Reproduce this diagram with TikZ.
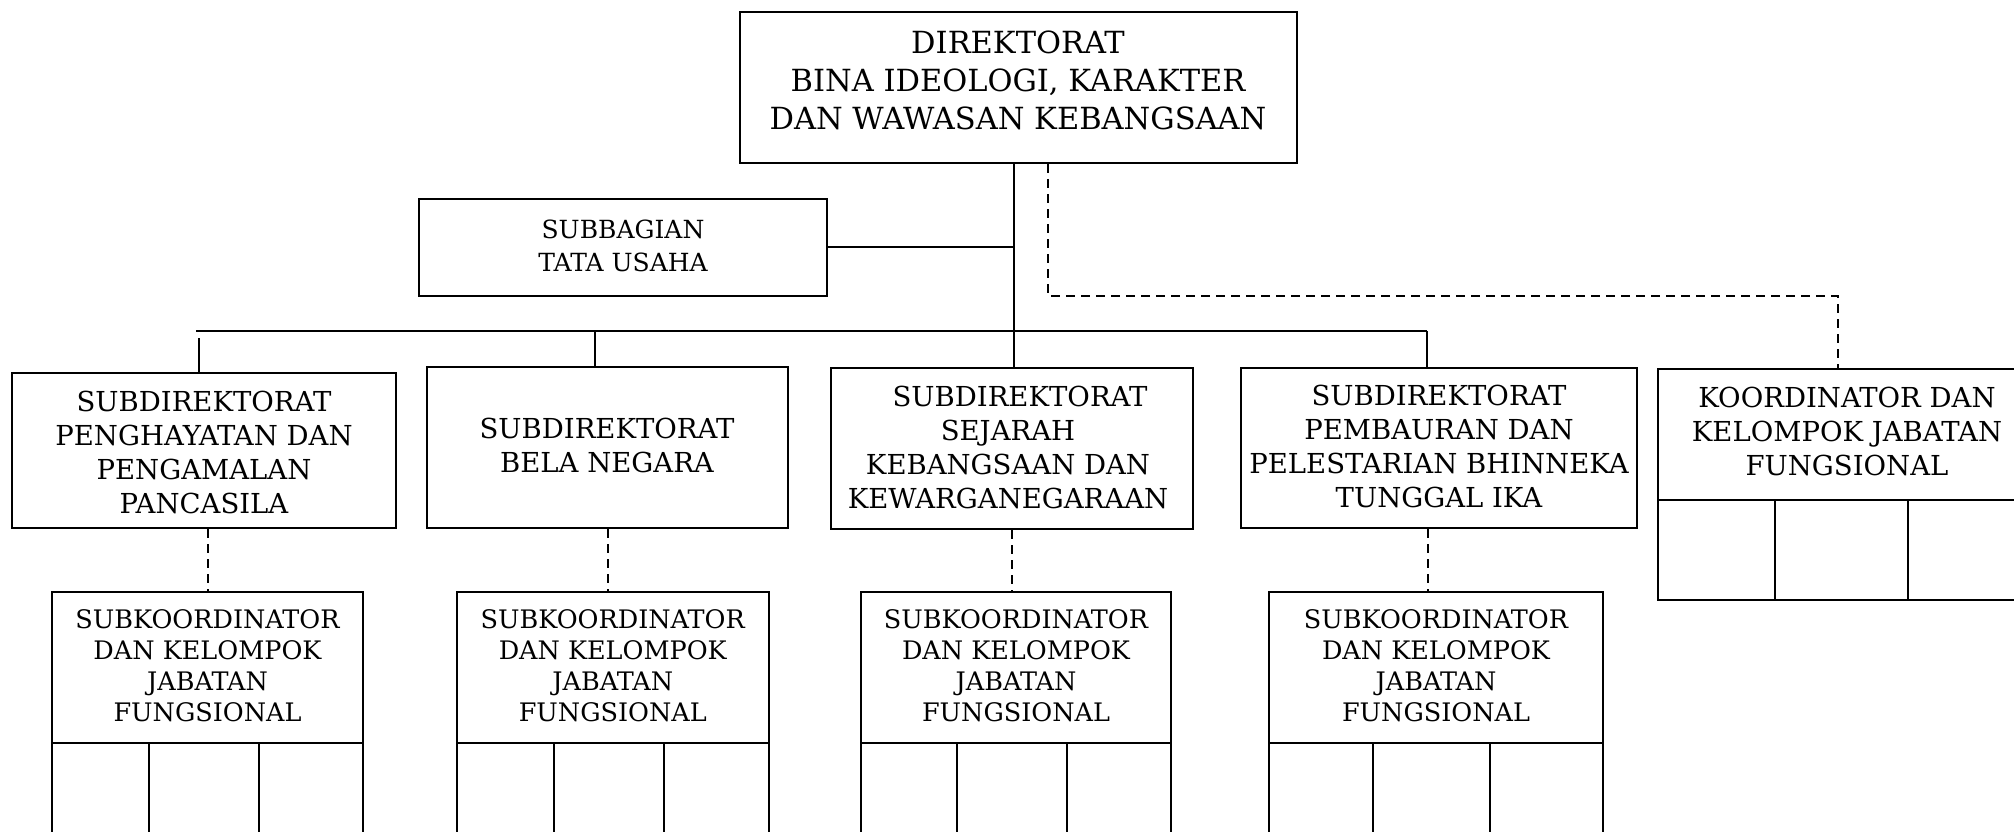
\documentclass[tikz,border=0pt]{standalone}
\usepackage{fontspec}
\setmainfont{DejaVu Serif}
\begin{document}
\begin{tikzpicture}[x=1pt,y=-1pt,
  box/.style={draw=black, line width=2pt, inner sep=0pt, fill=white},
  conn/.style={draw=black, line width=1.8pt},
  dconn/.style={draw=black, line width=1.7pt, dash pattern=on 9pt off 6pt},
  txt/.style={align=center, inner sep=0pt},
  fdir/.style={font={\fontsize{30.5}{38}\selectfont}},
  fsub/.style={font={\fontsize{27.5}{34}\selectfont}},
  fsb/.style={font={\fontsize{25}{33}\selectfont}},
  fsk/.style={font={\fontsize{25.5}{31}\selectfont}}
]
\useasboundingbox (0,0) rectangle (2014,832);
\fill[white] (0,0) rectangle (2014,832);
\clip (0,0) rectangle (2014,832);

% boxes
\node[box, minimum width=557pt, minimum height=151pt] (dir) at (1018.5,87.5) {};
\node[box, minimum width=408pt, minimum height=97pt] (sb) at (623,247.5) {};
\node[box, minimum width=384pt, minimum height=155pt] (b1) at (204,450.5) {};
\node[box, minimum width=361pt, minimum height=161pt] (b2) at (607.5,447.5) {};
\node[box, minimum width=362pt, minimum height=161pt] (b3) at (1012,448.5) {};
\node[box, minimum width=396pt, minimum height=160pt] (b4) at (1439,448) {};
\node[box, minimum width=378pt, minimum height=131pt] (ko) at (1847,434.5) {};
\node[box, minimum width=117pt, minimum height=100pt] (koa) at (1716.5,550) {};
\node[box, minimum width=133pt, minimum height=100pt] (kob) at (1841.5,550) {};
\node[box, minimum width=128pt, minimum height=100pt] (koc) at (1972,550) {};

\node[box, minimum width=311pt, minimum height=151pt] (s1) at (207.5,667.5) {};
\node[box, minimum width=97pt, minimum height=127pt] (s1a) at (100.5,806.5) {};
\node[box, minimum width=110pt, minimum height=127pt] (s1b) at (204,806.5) {};
\node[box, minimum width=104pt, minimum height=127pt] (s1c) at (311,806.5) {};

\node[box, minimum width=311.5pt, minimum height=151pt] (s2) at (612.75,667.5) {};
\node[box, minimum width=96.6pt, minimum height=127pt] (s2a) at (505.3,806.5) {};
\node[box, minimum width=110.4pt, minimum height=127pt] (s2b) at (608.8,806.5) {};
\node[box, minimum width=104.5pt, minimum height=127pt] (s2c) at (716.25,806.5) {};

\node[box, minimum width=310pt, minimum height=151pt] (s3) at (1016,667.5) {};
\node[box, minimum width=96pt, minimum height=127pt] (s3a) at (909,806.5) {};
\node[box, minimum width=110pt, minimum height=127pt] (s3b) at (1012,806.5) {};
\node[box, minimum width=104pt, minimum height=127pt] (s3c) at (1119,806.5) {};

\node[box, minimum width=334pt, minimum height=151pt] (s4) at (1436,667.5) {};
\node[box, minimum width=104pt, minimum height=127pt] (s4a) at (1321,806.5) {};
\node[box, minimum width=117pt, minimum height=127pt] (s4b) at (1431.5,806.5) {};
\node[box, minimum width=113pt, minimum height=127pt] (s4c) at (1546.5,806.5) {};

% texts
\node[txt, fdir] (dirt) at (1018,80) {DIREKTORAT\\BINA IDEOLOGI, KARAKTER\\DAN WAWASAN KEBANGSAAN};
\node[txt, fsb] (sbt) at (623,245.5) {SUBBAGIAN\\TATA USAHA};
\node[txt, fsub] (b1t) at (204,452.5) {SUBDIREKTORAT\\PENGHAYATAN DAN\\PENGAMALAN\\PANCASILA};
\node[txt, fsub] (b2t) at (607,445) {SUBDIREKTORAT\\BELA NEGARA};
\node[txt, fsub] (b3t) at (1008,447.5) {\hspace*{24pt}SUBDIREKTORAT\\SEJARAH\\KEBANGSAAN DAN\\KEWARGANEGARAAN};
\node[txt, fsub] (b4t) at (1439,446.5) {SUBDIREKTORAT\\PEMBAURAN DAN\\PELESTARIAN BHINNEKA\\TUNGGAL IKA};
\node[txt, fsub] (kot) at (1847,431.5) {KOORDINATOR DAN\\KELOMPOK JABATAN\\FUNGSIONAL};
\node[txt, fsk] (s1t) at (207.5,665.5) {SUBKOORDINATOR\\DAN KELOMPOK\\JABATAN\\FUNGSIONAL};
\node[txt, fsk] (s2t) at (612.75,665.5) {SUBKOORDINATOR\\DAN KELOMPOK\\JABATAN\\FUNGSIONAL};
\node[txt, fsk] (s3t) at (1016,665.5) {SUBKOORDINATOR\\DAN KELOMPOK\\JABATAN\\FUNGSIONAL};
\node[txt, fsk] (s4t) at (1436,665.5) {SUBKOORDINATOR\\DAN KELOMPOK\\JABATAN\\FUNGSIONAL};

% connector coordinates
\coordinate (t1) at (1014,331);
\coordinate (sbc) at (1014,247);
\coordinate (busL) at (196,331);
\coordinate (busR) at (1427,331);
\coordinate (st1) at (199,338);
\coordinate (st2) at (595,331);
\coordinate (k1) at (1048,296);
\coordinate (k2) at (1838,296);
\coordinate (d1) at (208,0);
\coordinate (d2) at (608,0);
\coordinate (d3) at (1012,0);
\coordinate (d4) at (1428,0);

% solid connectors
\draw[conn] (dir.south -| t1) -- (b3.north -| t1);
\draw[conn] (sb.east |- sbc) -- (sbc);
\draw[conn] (busL) -- (busR);
\draw[conn] (st1) -- (st1 |- b1.north);
\draw[conn] (st2) -- (st2 |- b2.north);
\draw[conn] (busR) -- (busR |- b4.north);

% dashed connectors
\draw[dconn] (dir.south -| k1) -- (k1) -- (k2) -- (k2 |- ko.north);
\draw[dconn] (b1.south -| d1) -- (s1.north -| d1);
\draw[dconn] (b2.south -| d2) -- (s2.north -| d2);
\draw[dconn] (b3.south -| d3) -- (s3.north -| d3);
\draw[dconn] (b4.south -| d4) -- (s4.north -| d4);
\end{tikzpicture}
\end{document}
